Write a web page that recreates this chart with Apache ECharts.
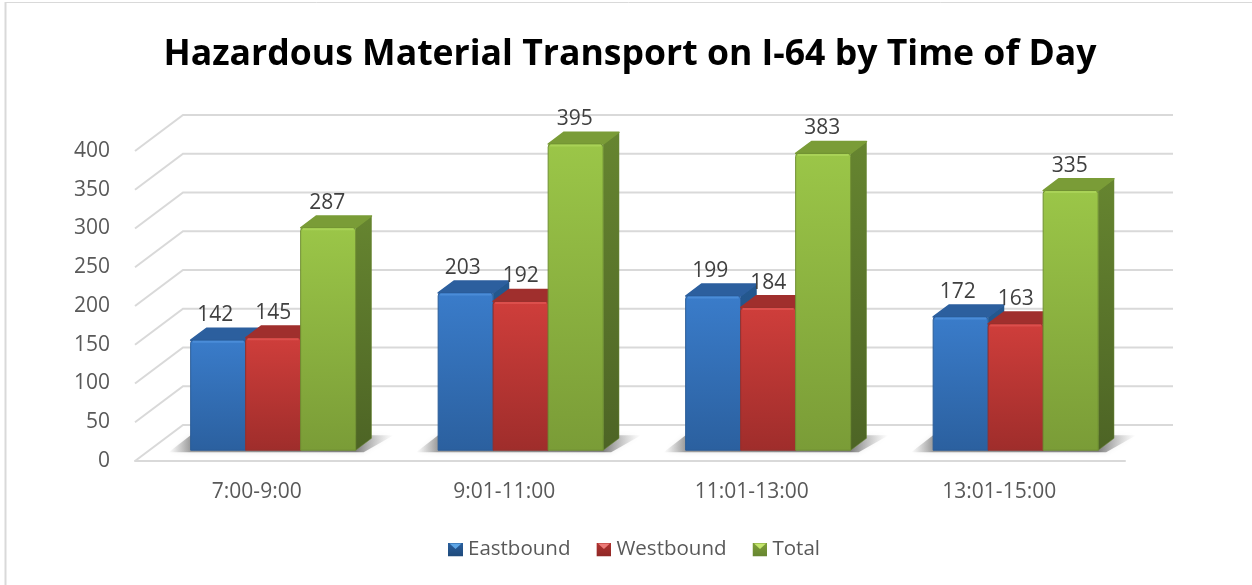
<!DOCTYPE html>
<html><head><meta charset="utf-8">
<style>html,body{margin:0;padding:0;background:#fff}#c{width:1252px;height:585px}</style>
<script src="https://cdn.jsdelivr.net/npm/echarts@6/dist/echarts.min.js"></script>
</head><body><div id="c"></div>
<script>
const categories = ['7:00-9:00','9:01-11:00','11:01-13:00','13:01-15:00'];
const eastbound = [142,203,199,172];
const westbound = [145,192,184,163];
const total = [287,395,383,335];
const yTicks = [0,50,100,150,200,250,300,350,400];

const FONT = '"Open Sans", "Noto Sans", sans-serif';
const DX = 48, DY = 36, T_FRONT = 0.30, T_BACK = 0.63, BAR_FRAC = 55/247.5;
const grad = (a,b) => new echarts.graphic.LinearGradient(0,0,0,1,[{offset:0,color:a},{offset:1,color:b}]);

const palette = [
 {front:['#3a7cca','#2b609f'], side:['#24588f','#1f4a7a'], topFace:'#2c5f9e', edge:'#2a5c98', hi:'#4a8cd8', labelDx:-3,
  icon:['#2a5f9e','#1f4a7a','#5ea6e6']},
 {front:['#cf3e3b','#9f2d2b'], side:['#8f2826','#7a2321'], topFace:'#a02f2d', edge:'#96302d', hi:'#dc4f4c', labelDx:0,
  icon:['#b03330','#8f2826','#ec7a77']},
 {front:['#9bc648','#7a9c37'], side:['#668530','#4d6425'], topFace:'#7a9c37', edge:'#6f8f32', hi:'#a9d257', labelDx:-1,
  icon:['#7f9f39','#668530','#c4e66c']}
];
const iconOf = c => 'image://data:image/svg+xml,' + encodeURIComponent(
 `<svg xmlns="http://www.w3.org/2000/svg" width="30" height="28"><defs><linearGradient id="g" x1="0" y1="0" x2="0" y2="1"><stop offset="0" stop-color="${c[0]}"/><stop offset="1" stop-color="${c[1]}"/></linearGradient></defs><rect width="30" height="28" fill="url(#g)"/><polygon points="3,2 27,2 15,13" fill="${c[2]}"/></svg>`);

function barSeries(name, values, idx, c){
  return {
    name, type:'custom', coordinateSystem:'cartesian2d', z:5+idx,
    itemStyle:{color:c.front[0]}, data: values.map((v,i)=>[i,v]),
    renderItem(params, api){
      const base = api.coord([api.value(0),0]), top = api.coord([api.value(0),api.value(1)]);
      const band = api.size([1,0])[0], w = band*BAR_FRAC;
      const fx = T_FRONT*DX, fy = T_FRONT*DY;
      const sx = (T_BACK-T_FRONT)*DX, sy = (T_BACK-T_FRONT)*DY;
      const l = base[0] + (idx-1.5)*w + fx, r = l+w, yb = base[1]-fy, yt = top[1]-fy;
      return {type:'group', children:[
        {type:'polygon', shape:{points:[[r,yt],[r+sx,yt-sy],[r+sx,yb-sy],[r,yb]]},
         style:{fill:grad(c.side[0],c.side[1]), stroke:c.side[0], lineWidth:0.5, lineJoin:'round'}},
        {type:'polygon', shape:{points:[[l,yt],[l+sx,yt-sy],[r+sx,yt-sy],[r,yt]]},
         style:{fill:c.topFace, stroke:c.topFace, lineWidth:1.5, lineJoin:'round'}},
        {type:'rect', shape:{x:l,y:yt,width:w,height:yb-yt,r:[3,3,0,0]},
         style:{fill:grad(c.front[0],c.front[1]), stroke:c.edge, lineWidth:1}},
        {type:'line', shape:{x1:l+2,y1:yt+1.5,x2:r-2,y2:yt+1.5}, style:{stroke:c.hi,lineWidth:2}},
        {type:'text', z2:50, style:{x:l+w/2+c.labelDx, y:yt-25, text:String(api.value(1)),
         fill:'#404040', font:'21px '+FONT, align:'center', verticalAlign:'middle'}}
      ]};
    }
  };
}

const option = {
  animation:false,
  backgroundColor:'#ffffff',
  title:{text:'Hazardous Material Transport on I-64 by Time of Day', left:625, top:32, textAlign:'center',
    textStyle:{fontFamily:FONT,fontSize:35.6,fontWeight:'bold',color:'#000000'}},
  grid:{left:135,right:127,top:151,bottom:124,containLabel:false},
  xAxis:{type:'category',data:categories,
    axisLine:{lineStyle:{color:'#d9d9d9',width:2}},axisTick:{show:false},
    axisLabel:{color:'#595959',fontFamily:FONT,fontSize:21,margin:21,padding:[0,4,0,0]}},
  yAxis:{type:'value',min:0,max:400,interval:50,
    axisLine:{show:false},axisTick:{show:false},splitLine:{show:false},
    axisLabel:{color:'#595959',fontFamily:FONT,fontSize:21,margin:25,padding:[0,0,2,0],formatter:v=>yTicks.includes(v)?String(v):''}},
  legend:{left:448,top:539,padding:0,itemWidth:15,itemHeight:14,itemGap:26,
    textStyle:{color:'#595959',fontFamily:FONT,fontSize:20.5,padding:[0,0,0,0]},
    selectedMode:false,
    data:['Eastbound','Westbound','Total'].map((n,i)=>({name:n,icon:iconOf(palette[i].icon)}))},
  graphic:[
    {type:'line',silent:true,shape:{x1:5.5,y1:2,x2:5.5,y2:585},style:{stroke:'#d9d9d9',lineWidth:2}},
    {type:'line',silent:true,shape:{x1:5,y1:2.5,x2:1252,y2:2.5},style:{stroke:'#d9d9d9',lineWidth:1}}
  ],
  series:[
    {type:'custom',name:'grid',z:1,silent:true,data:yTicks.map(v=>[0,v]),
     renderItem(params,api){
       const p=api.coord([0,api.value(1)]), band=api.size([1,0])[0];
       const x0=p[0]-band/2, x1=x0+band*categories.length, y=p[1];
       return {type:'polyline',shape:{points:[[x0,y],[x0+DX,y-DY],[x1+DX,y-DY]]},
         style:{stroke:'#d9d9d9',lineWidth:2,fill:null}};
     }},
    {type:'custom',name:'shadow',z:2,silent:true,data:categories.map((c,i)=>[i,0]),
     renderItem(params,api){
       const p=api.coord([api.value(0),0]), band=api.size([1,0])[0], w=band*BAR_FRAC;
       const l=p[0]-1.5*w+T_FRONT*DX, r=l+3*w, yb=p[1]-T_FRONT*DY;
       const x0=l-22, x1=r+38, tot=x1-x0;
       return {type:'polygon',shape:{points:[[x0,yb+2],[r+8,yb+2],[x1,yb-15],[l,yb-15]]},
         style:{fill:new echarts.graphic.LinearGradient(x0,0,x1,0,[
           {offset:0,color:'rgba(130,130,130,0)'},
           {offset:22/tot,color:'rgba(100,100,100,0.6)'},
           {offset:(tot-38)/tot,color:'rgba(80,80,80,0.7)'},
           {offset:1,color:'rgba(160,160,160,0)'}],true),
           shadowBlur:5,shadowColor:'rgba(140,140,140,0.3)'}};
     }},
    barSeries('Eastbound',eastbound,0,palette[0]),
    barSeries('Westbound',westbound,1,palette[1]),
    barSeries('Total',total,2,palette[2])
  ]
};
const chart = echarts.init(document.getElementById('c'),null,{renderer:'canvas'});
chart.setOption(option);
</script></body></html>
